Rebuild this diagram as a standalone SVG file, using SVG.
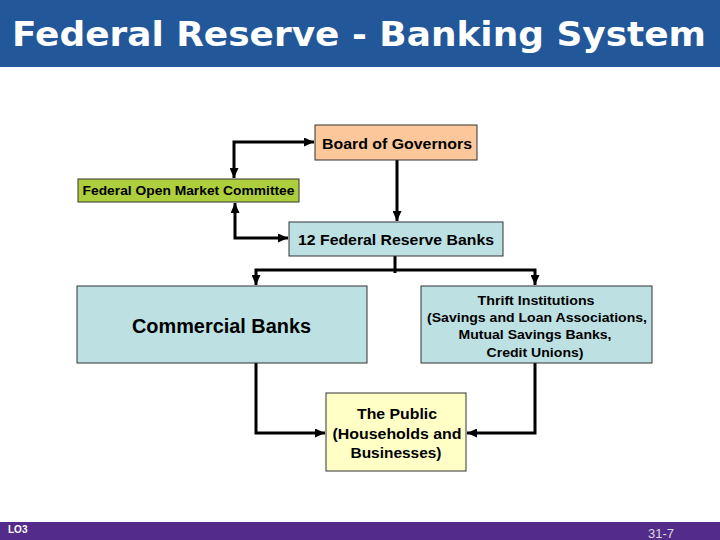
<svg xmlns="http://www.w3.org/2000/svg" width="720" height="540" viewBox="0 0 720 540">
<defs>
<style>
.box{stroke:#333;stroke-width:1}
.t{font-family:"Liberation Sans",Arial,sans-serif;font-weight:bold;fill:#000;text-anchor:middle}
.c{fill:none;stroke:#000;stroke-width:3}
</style>
<marker id="ah" markerUnits="userSpaceOnUse" markerWidth="10" markerHeight="9" refX="10" refY="4.5" orient="auto-start-reverse">
<path d="M0,0 L10,4.5 L0,9 z" fill="#000"/>
</marker>
</defs>
<rect width="720" height="540" fill="#fff"/>
<rect x="0" y="0" width="720" height="67" fill="#22589A"/>
<text x="12" y="46" font-family="DejaVu Sans,sans-serif" font-weight="bold" font-size="34" fill="#fff" textLength="694" lengthAdjust="spacingAndGlyphs">Federal Reserve - Banking System</text>
<rect x="0" y="522" width="720" height="18" fill="#532B8A"/>
<text x="8" y="533" font-family="Liberation Sans,Arial,sans-serif" font-weight="bold" font-size="10" fill="#fff">LO3</text>
<text x="648" y="538" font-family="Liberation Sans,Arial,sans-serif" font-size="13" fill="#ddd">31-7</text>

<g id="connectors">
<path class="c" d="M314,142 H234 V178" marker-start="url(#ah)" marker-end="url(#ah)"/>
<path class="c" d="M235,203 V238 H288" marker-start="url(#ah)" marker-end="url(#ah)"/>
<path class="c" d="M397,160 V221" marker-end="url(#ah)"/>
<path class="c" d="M395,256 V273"/>
<path class="c" d="M256,285 V270 H535 V285" marker-start="url(#ah)" marker-end="url(#ah)"/>
<path class="c" d="M256,363 V433 H325" marker-end="url(#ah)"/>
<path class="c" d="M535,363 V433 H467" marker-end="url(#ah)"/>
</g>

<g id="board">
<rect class="box" x="315" y="125" width="162" height="35" fill="#FCC89B"/>
<text class="t" x="397" y="149" font-size="15.5" textLength="150" lengthAdjust="spacingAndGlyphs">Board of Governors</text>
</g>
<g id="fomc">
<rect class="box" x="78" y="179" width="221" height="23" fill="#AECF3D"/>
<text class="t" x="188.5" y="195" font-size="13.5" textLength="212" lengthAdjust="spacingAndGlyphs">Federal Open Market Committee</text>
</g>
<g id="frb">
<rect class="box" x="289" y="222" width="214" height="34" fill="#BDE0E3"/>
<text class="t" x="396" y="245" font-size="15.5" textLength="196" lengthAdjust="spacingAndGlyphs">12 Federal Reserve Banks</text>
</g>
<g id="commercial">
<rect class="box" x="77" y="286" width="290" height="77" fill="#BDE0E3"/>
<text class="t" x="221.5" y="333" font-size="19.5" textLength="179" lengthAdjust="spacingAndGlyphs">Commercial Banks</text>
</g>
<g id="thrift">
<rect class="box" x="421" y="286" width="231" height="77" fill="#BDE0E3"/>
<text class="t" x="536" y="305" font-size="13.5" textLength="117" lengthAdjust="spacingAndGlyphs">Thrift Institutions</text>
<text class="t" x="537" y="322" font-size="13.5" textLength="220" lengthAdjust="spacingAndGlyphs">(Savings and Loan Associations,</text>
<text class="t" x="535" y="339" font-size="13.5" textLength="153" lengthAdjust="spacingAndGlyphs">Mutual Savings Banks,</text>
<text class="t" x="535" y="357" font-size="13.5" textLength="97" lengthAdjust="spacingAndGlyphs">Credit Unions)</text>
</g>
<g id="public">
<rect class="box" x="326" y="393" width="140" height="78" fill="#FFFFC6"/>
<text class="t" x="397" y="419" font-size="15.5" textLength="80" lengthAdjust="spacingAndGlyphs">The Public</text>
<text class="t" x="397" y="439" font-size="15.5" textLength="129" lengthAdjust="spacingAndGlyphs">(Households and</text>
<text class="t" x="396" y="458" font-size="15.5" textLength="91" lengthAdjust="spacingAndGlyphs">Businesses)</text>
</g>
</svg>
